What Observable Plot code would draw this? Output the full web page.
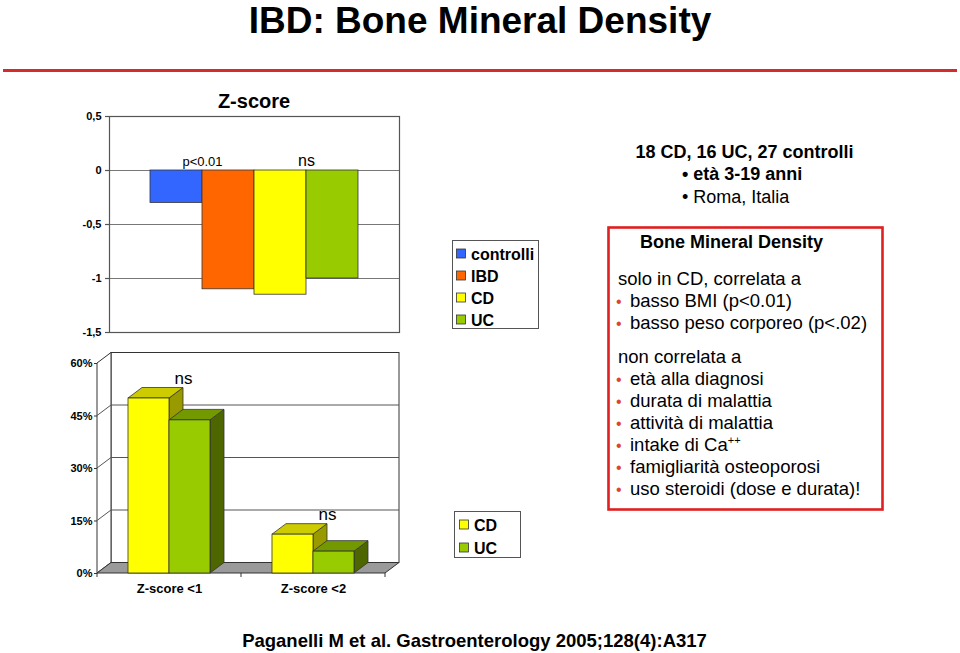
<!DOCTYPE html>
<html><head><meta charset="utf-8">
<script src="https://cdn.jsdelivr.net/npm/d3@7"></script>
<script src="https://cdn.jsdelivr.net/npm/@observablehq/plot@0.6"></script>
<style>
body{margin:0;background:#fff;}
#slide{position:relative;width:960px;height:653px;overflow:hidden;background:#fff;font-family:"Liberation Sans",Arial,Helvetica,sans-serif;}
#slide > *{position:absolute;}
</style></head><body><div id="slide"></div>
<script>
// ---------- DATA ----------
// Z-score chart
const zKeys = ["controlli", "IBD", "CD", "UC"];
const zValues = [-0.3, -1.1, -1.15, -1.0];
const zColors = ["#3366ff", "#ff6600", "#ffff00", "#99cc00"];
const zTicks = [0.5, 0, -0.5, -1, -1.5];
const zNotes = [{key: "IBD", label: "p<0.01"}, {key: "UC", label: "ns"}];
// Percentage chart (Z-score <1, <2)
const pGroups = ["Z-score <1", "Z-score <2"];
const pCD = [50, 11.1];
const pUC = [43.75, 6.25];
const pTicks = [0, 15, 30, 45, 60];
const pNotes = ["ns", "ns"];
// texts
const titleText = "IBD: Bone Mineral Density";
const chartTitle = "Z-score";
const infoHead = "18 CD, 16 UC, 27 controlli";
const infoLines = ["età 3-19 anni", "Roma, Italia"];
const boxHead = "Bone Mineral Density";
const boxIntro1 = "solo in CD, correlata a";
const boxList1 = ["basso BMI (p<0.01)", "basso peso corporeo (p<.02)"];
const boxIntro2 = "non correlata a";
const boxList2 = ["età alla diagnosi", "durata di malattia", "attività di malattia", "intake di Ca", "famigliarità osteoporosi", "uso steroidi (dose e durata)!"];
const footer = "Paganelli M et al. Gastroenterology 2005;128(4):A317";

const FONT = '"Liberation Sans", Arial, Helvetica, sans-serif';
const slide = document.getElementById("slide");

function place(node, left, topPx, w, h) {
  const d = document.createElement("div");
  d.style.left = left + "px"; d.style.top = topPx + "px";
  d.style.width = w + "px"; d.style.height = h + "px";
  d.appendChild(node); slide.appendChild(d);
}

// ---------- TOP CHART ----------
const zData = zKeys.map((k, i) => ({key: k, value: zValues[i]}));
const zChart = Plot.plot({
  width: 410, height: 270,
  marginLeft: 109, marginRight: 11, marginTop: 36, marginBottom: 18,
  style: {fontFamily: FONT, background: "transparent", color: "#000", overflow: "visible"},
  x: {domain: zKeys, paddingInner: 0, paddingOuter: 0.76, axis: null},
  y: {domain: [-1.5, 0.5], axis: null, label: null},
  color: {domain: zKeys, range: zColors},
  marks: [
    Plot.ruleY([0, -0.5, -1], {stroke: "#777", strokeWidth: 1.2}),
    Plot.frame({stroke: "#555", strokeWidth: 1.2}),
    Plot.axisY({ticks: zTicks, tickFormat: d => String(d).replace(".", ","), tickSize: 4, tickPadding: 4, fontSize: 11, fontWeight: "bold", stroke: "#555", strokeWidth: 1.2, label: null}),
    Plot.barY(zData, {x: "key", y: "value", fill: "key", stroke: "#333", strokeWidth: 0.8}),
    Plot.text(zNotes, {x: "key", y: 0, text: "label", dx: -26, dy: -5, lineAnchor: "bottom", fontSize: d => d.label === "ns" ? 16 : 13, fill: "#000"})
  ]
});
place(zChart, 0, 80, 410, 270);

// ---------- BOTTOM CHART (3D) ----------
const DX = 14, DY = -10.5;          // depth offset (px)
const BAR_OFF = 31, BAR_W = 41;     // bar inset / width inside a group band (px)
const series = [
  {name: "CD", values: pCD, front: "#ffff00", topc: "#cccc00", side: "#999900"},
  {name: "UC", values: pUC, front: "#99cc00", topc: "#739900", side: "#4d6600"}
];
const rows = [];
pGroups.forEach((g, gi) => series.forEach((s, si) => rows.push({group: g, series: s.name, si, value: s.values[gi], s})));

function wallsMark(index, scales, values, dim) {
  const {x, y} = scales;
  const x0 = dim.marginLeft, x1 = dim.width - dim.marginRight;
  const yb = y(0), yt = y(d3.max(pTicks));
  const g = d3.create("svg:g").attr("stroke", "#333").attr("stroke-width", 1);
  g.append("rect").attr("x", x0 + DX).attr("y", yt + DY).attr("width", x1 - x0).attr("height", yb - yt).attr("fill", "#fff");
  g.append("path").attr("d", `M${x0},${yt}L${x0 + DX},${yt + DY}L${x0 + DX},${yb + DY}L${x0},${yb}Z`).attr("fill", "#fff");
  for (const t of pTicks.slice(1, -1)) {
    g.append("path").attr("fill", "none").attr("stroke", "#555")
      .attr("d", `M${x0},${y(t)}L${x0 + DX},${y(t) + DY}L${x1 + DX},${y(t) + DY}`);
  }
  g.append("path").attr("fill", "#9a9a9a")
    .attr("d", `M${x0},${yb}L${x1},${yb}L${x1 + DX},${yb + DY}L${x0 + DX},${yb + DY}Z`);
  const bw = x.bandwidth ? x.bandwidth() : (x1 - x0) / pGroups.length;
  const bounds = pGroups.map(v => x(v)).concat([x(pGroups[pGroups.length - 1]) + bw]);
  for (const b of bounds) g.append("line").attr("x1", b).attr("x2", b).attr("y1", yb).attr("y2", yb + 4);
  return g.node();
}

function depthMark(index, scales, values, dim) {
  const {x, y} = scales;
  const g = d3.create("svg:g").attr("stroke", "#333").attr("stroke-width", 0.8);
  for (const r of rows) {
    const left = x(r.group) + BAR_OFF + r.si * BAR_W, right = left + BAR_W;
    const t = y(r.value), b = y(0);
    g.append("path").attr("fill", r.s.side)
      .attr("d", `M${right},${t}L${right + DX},${t + DY}L${right + DX},${b + DY}L${right},${b}Z`);
    g.append("path").attr("fill", r.s.topc)
      .attr("d", `M${left},${t}L${right},${t}L${right + DX},${t + DY}L${left + DX},${t + DY}Z`);
  }
  return g.node();
}

const noteData = pGroups.map((g, i) => ({group: g, y: Math.max(pCD[i], pUC[i]), label: pNotes[i]}));
const pChart = Plot.plot({
  width: 410, height: 270,
  marginLeft: 97, marginRight: 25, marginTop: 23, marginBottom: 37,
  style: {fontFamily: FONT, background: "transparent", color: "#000", overflow: "visible"},
  x: {domain: pGroups, padding: 0, label: null},
  y: {domain: [0, 60], label: null},
  marks: [
    wallsMark,
    depthMark,
    Plot.barY(rows.filter(r => r.si === 0), {x: "group", y: "value", insetLeft: BAR_OFF, insetRight: BAR_OFF + BAR_W, fill: series[0].front, stroke: "#333", strokeWidth: 0.8}),
    Plot.barY(rows.filter(r => r.si === 1), {x: "group", y: "value", insetLeft: BAR_OFF + BAR_W, insetRight: BAR_OFF, fill: series[1].front, stroke: "#333", strokeWidth: 0.8}),
    Plot.axisY({ticks: pTicks, tickFormat: d => d + "%", tickSize: 3, tickPadding: 2, fontSize: 11, fontWeight: "bold", stroke: "#333", label: null}),
    Plot.axisX({tickSize: 0, tickPadding: 10, fontSize: 13, fontWeight: "bold", label: null}),
    Plot.text(noteData, {x: "group", y: "y", text: "label", dx: DX, dy: DY - 4, lineAnchor: "bottom", fontSize: 17, fill: "#000"})
  ]
});
place(pChart, 0, 340, 410, 270);

// ---------- OVERLAY (titles, legends, text) ----------
const svg = d3.create("svg").attr("width", 960).attr("height", 653).style("font-family", FONT).style("pointer-events", "none");
function T(x, y, str, o = {}) {
  return svg.append("text").attr("x", x).attr("y", y).attr("font-size", o.size || 18)
    .attr("font-weight", o.weight || "normal").attr("text-anchor", o.anchor || "start")
    .attr("fill", o.fill || "#000").text(str);
}
// slide title & rule
T(480, 33, titleText, {size: 37, weight: "bold", anchor: "middle"});
svg.append("rect").attr("x", 3).attr("y", 69).attr("width", 954).attr("height", 3).attr("fill", "#d62b2b");
// chart title
T(254, 108, chartTitle, {size: 20, weight: "bold", anchor: "middle"});
// legend (top)
svg.append("rect").attr("x", 452.5).attr("y", 240.5).attr("width", 86).attr("height", 88).attr("fill", "none").attr("stroke", "#555");
zKeys.forEach((k, i) => {
  const cy = 253.5 + i * 22;
  svg.append("rect").attr("x", 456.5).attr("y", cy - 4.5).attr("width", 9).attr("height", 9).attr("fill", zColors[i]).attr("stroke", "#333").attr("stroke-width", 0.8);
  T(471, cy + 6, k, {size: 16, weight: "bold"});
});
// legend (bottom)
svg.append("rect").attr("x", 454.5).attr("y", 511.5).attr("width", 66).attr("height", 46).attr("fill", "none").attr("stroke", "#555");
series.forEach((s, i) => {
  const cy = 524.5 + i * 23;
  svg.append("rect").attr("x", 459.5).attr("y", cy - 4.5).attr("width", 9).attr("height", 9).attr("fill", s.front).attr("stroke", "#333").attr("stroke-width", 0.8);
  T(474, cy + 6, s.name, {size: 16, weight: "bold"});
});
// info text
T(744.5, 158, infoHead, {size: 18, weight: "bold", anchor: "middle"});
infoLines.forEach((l, i) => T(682, 180 + i * 22.5, "• " + l, {size: 18, weight: i === 0 ? "bold" : "normal"}));
// red box
svg.append("rect").attr("x", 608.5).attr("y", 227.5).attr("width", 274).attr("height", 282).attr("fill", "none").attr("stroke", "#e02020").attr("stroke-width", 2.6);
T(640, 248, boxHead, {size: 18, weight: "bold"});
T(618, 285, boxIntro1, {size: 18.5});
function bulletLine(y, str) {
  T(616, y, "•", {size: 16, fill: "#e0452a"});
  return T(630, y, str, {size: 18.5});
}
boxList1.forEach((l, i) => bulletLine(307 + i * 22, l));
T(618, 363, boxIntro2, {size: 18.5});
boxList2.forEach((l, i) => {
  const t = bulletLine(385 + i * 22, l);
  if (l.endsWith("Ca")) t.append("tspan").attr("font-size", 11).attr("dy", -7).text("++");
});
// footer
T(474.5, 647, footer, {size: 18.5, weight: "bold", anchor: "middle"});
const sd = svg.node();
slide.appendChild(sd);
sd.style.left = "0px"; sd.style.top = "0px";
</script></body></html>
